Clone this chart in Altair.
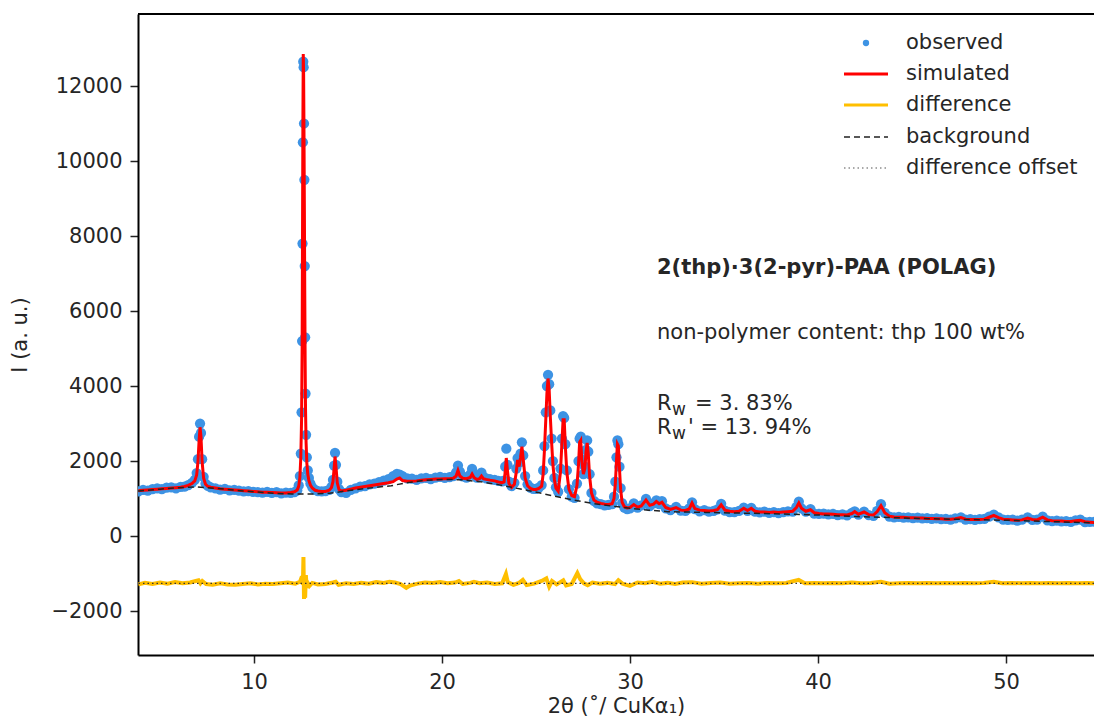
import altair as alt
import pandas as pd

# ---------------- data ----------------
two_theta = [
    3.85, 4.1, 4.35, 4.6, 4.85, 5.1, 5.35, 5.6, 5.85, 6.1, 6.3, 6.5,
    6.7, 6.85, 6.95, 7.02, 7.08, 7.13, 7.18, 7.24, 7.32, 7.42, 7.55, 7.7,
    7.95, 8.2, 8.45, 8.7, 8.95, 9.2, 9.45, 9.7, 9.95, 10.2, 10.45, 10.7, 10.95, 11.2, 11.45, 11.7, 11.95, 12.15,
    12.3, 12.38, 12.44, 12.49, 12.53, 12.56, 12.58, 12.6, 12.62, 12.64, 12.66, 12.68, 12.7, 12.72, 12.74, 12.77,
    12.81, 12.86, 12.92, 13.0, 13.1, 13.25, 13.4,
    13.6, 13.8, 14.0, 14.12, 14.2, 14.26, 14.31, 14.36, 14.43, 14.52, 14.65,
    14.9, 15.15, 15.4, 15.65, 15.9, 16.15, 16.4, 16.65, 16.9, 17.15, 17.4, 17.6, 17.75, 17.9, 18.15, 18.4,
    18.65, 18.9, 19.15, 19.4, 19.65, 19.9, 20.15, 20.4, 20.6,
    20.75, 20.85, 20.95, 21.1, 21.3, 21.5, 21.6, 21.7, 21.85, 22.0, 22.1, 22.2, 22.35, 22.55, 22.8, 23.0, 23.2,
    23.3, 23.36, 23.42, 23.48, 23.56, 23.7, 23.85, 23.95, 24.02, 24.1, 24.18, 24.25, 24.32, 24.42, 24.55,
    24.7, 24.85, 25.0, 25.15, 25.3,
    25.38, 25.45, 25.52, 25.58, 25.64, 25.7, 25.76, 25.83, 25.9, 25.98, 26.06, 26.18, 26.3, 26.38, 26.44,
    26.5, 26.56, 26.64, 26.75, 26.9, 27.05, 27.18, 27.26, 27.32, 27.38, 27.44, 27.52, 27.6, 27.66, 27.72,
    27.78, 27.85, 27.95, 28.08, 28.25, 28.45, 28.65, 28.85, 29.05, 29.15, 29.22, 29.28, 29.33, 29.38, 29.44,
    29.5, 29.58, 29.7, 29.85,
    30.0, 30.2, 30.4, 30.6, 30.85, 31.05, 31.25, 31.4, 31.55, 31.7, 31.9, 32.15, 32.45, 32.7, 32.95, 33.15,
    33.3, 33.45, 33.7, 33.95, 34.2, 34.45, 34.65, 34.85, 35.05, 35.3, 35.55, 35.8, 36.05, 36.25, 36.45, 36.65,
    36.9, 37.15, 37.4, 37.65, 37.9, 38.15, 38.4, 38.65, 38.85, 38.98, 39.12, 39.35, 39.6, 39.8, 40.05, 40.3,
    40.55, 40.8, 41.05, 41.3, 41.55, 41.8, 41.95, 42.15, 42.45, 42.7, 42.95, 43.15, 43.35, 43.55, 43.8, 44.05,
    44.3, 44.55, 44.8, 45.05, 45.3, 45.55, 45.8, 46.05, 46.3, 46.55, 46.8, 47.05, 47.3, 47.6, 47.85, 48.1,
    48.35, 48.6, 48.85, 49.1, 49.35, 49.6, 49.85, 50.1, 50.35, 50.6, 50.85, 51.15, 51.4, 51.65, 51.95, 52.2,
    52.45, 52.7, 52.95, 53.2, 53.45, 53.7, 53.95, 54.2, 54.45, 54.7,
]

observed = [
    1190, 1230, 1210, 1250, 1270, 1250, 1290, 1300, 1270, 1310, 1320, 1360,
    1420, 1500, 1680, 2050, 2650, 3000, 2750, 2050, 1580, 1400, 1340, 1300,
    1270, 1240, 1260, 1220, 1230, 1210, 1190, 1200, 1180, 1170, 1160, 1180, 1150, 1170, 1140, 1160, 1150, 1170,
    1220, 1350, 1600, 2200, 3300, 5200, 7800, 10500, 12650, 12500, 11000, 9500, 7200, 5300, 3800, 2700,
    2100, 1750, 1550, 1400, 1300, 1230, 1200,
    1190, 1200, 1230, 1310, 1500, 1880, 2220, 1900, 1450, 1250, 1170,
    1150, 1230, 1270, 1320, 1330, 1380, 1400, 1440, 1480, 1520, 1600, 1660, 1640, 1600, 1540, 1530,
    1500, 1540, 1550, 1520, 1560, 1580, 1550, 1570, 1600,
    1700, 1880, 1720, 1590, 1560, 1640, 1790, 1640, 1560, 1600, 1690, 1580, 1540, 1520, 1500, 1470, 1460,
    1480, 1850, 2330, 1900, 1450, 1330, 1420, 1800, 2080, 1950, 2200, 2500, 2150, 1600, 1380,
    1290, 1260, 1260, 1290, 1360,
    1750, 2400, 3300, 4000, 4300, 4050, 3350, 2600, 2000, 1550, 1300, 1180, 1800, 2600, 3200,
    3150, 2450, 1750, 1250, 1050, 1020, 1400, 2000, 2600, 2650, 2050, 1650, 1850, 2300, 2550,
    2250, 1650, 1150, 940, 870, 850, 820, 830, 850, 1050, 1450, 2100, 2550, 2450, 1850,
    1280, 880, 760, 720,
    740, 870, 760, 820, 990, 800, 870, 950, 850, 930, 740, 690, 780, 680, 670, 740,
    900, 720, 660, 690, 650, 670, 710, 860, 680, 640, 640, 670, 760, 670, 750, 650,
    630, 650, 620, 640, 610, 640, 660, 650, 780, 920, 740, 650, 720, 600, 590, 600,
    580, 590, 560, 580, 550, 620, 660, 570, 650, 560, 540, 670, 850, 620, 520, 500,
    510, 490, 500, 480, 490, 470, 480, 460, 470, 450, 460, 440, 470, 500, 440, 450,
    430, 450, 460, 520, 570, 500, 440, 430, 440, 410, 440, 500, 430, 440, 520, 420,
    400, 410, 390, 400, 380, 420, 440, 370, 380, 380,
]

simulated = [
    1210, 1220, 1230, 1240, 1250, 1260, 1270, 1280, 1290, 1300, 1320, 1350,
    1400, 1470, 1630, 1980, 2550, 2900, 2650, 1980, 1540, 1380, 1320, 1300,
    1280, 1260, 1250, 1240, 1230, 1220, 1210, 1200, 1190, 1180, 1170, 1165, 1160, 1155, 1150, 1150, 1160, 1180,
    1230, 1330, 1560, 2100, 3100, 5000, 7900, 11000, 12850, 12300, 10700, 8700, 6500, 4700, 3400, 2500,
    1950, 1650, 1480, 1360, 1280, 1220, 1200,
    1190, 1190, 1220, 1290, 1450, 1800, 2120, 1850, 1420, 1240, 1200,
    1220, 1250, 1280, 1300, 1320, 1340, 1360, 1380, 1400, 1420, 1450, 1520, 1550, 1480, 1460, 1460,
    1470, 1490, 1500, 1510, 1520, 1520, 1530, 1530, 1540,
    1600, 1750, 1600, 1540, 1530, 1560, 1650, 1560, 1510, 1530, 1600, 1530, 1510, 1490, 1470, 1440, 1420,
    1440, 1700, 2080, 1750, 1400, 1300, 1380, 1700, 2030, 1850, 2100, 2380, 2050, 1550, 1340,
    1270, 1240, 1240, 1270, 1330,
    1650, 2300, 3100, 3800, 4200, 3900, 3200, 2500, 1900, 1500, 1280, 1200, 1700, 2500, 3100,
    3100, 2400, 1700, 1250, 1080, 1050, 1350, 1900, 2500, 2550, 2000, 1650, 1800, 2250, 2480,
    2200, 1600, 1150, 960, 900, 870, 850, 840, 860, 1000, 1400, 2000, 2450, 2400, 1800,
    1250, 900, 780, 750,
    760, 840, 770, 800, 960, 820, 850, 920, 860, 900, 760, 710, 760, 690, 680, 720,
    880, 730, 690, 680, 670, 680, 700, 830, 690, 660, 650, 660, 740, 680, 740, 660,
    640, 640, 630, 640, 630, 640, 650, 660, 760, 880, 740, 660, 700, 620, 600, 590,
    590, 580, 570, 570, 560, 600, 650, 580, 640, 570, 560, 650, 810, 620, 530, 510,
    500, 500, 490, 490, 480, 480, 470, 470, 460, 460, 450, 450, 460, 490, 450, 440,
    440, 440, 450, 500, 550, 490, 450, 440, 430, 420, 430, 480, 440, 430, 500, 430,
    410, 400, 400, 390, 390, 410, 420, 380, 370, 360,
]

bg_theta = [3.83, 5, 6, 7, 8, 9, 10, 11, 12, 13, 14, 14.6, 15.5, 16.5, 17.3, 18, 19, 20, 21, 22, 23,
            23.7, 24.9, 26, 27, 28, 29, 30, 31, 32, 34, 36, 38, 40, 42, 44, 46, 48, 50, 52, 54.68]
background = [1200, 1250, 1290, 1310, 1270, 1220, 1180, 1140, 1120, 1120, 1140, 1180, 1240, 1300, 1340,
              1410, 1480, 1510, 1500, 1450, 1370, 1300, 1180, 1060, 960, 870, 800, 740, 690, 650, 630,
              610, 590, 560, 520, 490, 460, 440, 420, 390, 350]

diff_theta = [
    3.85, 4.2, 4.6, 5.0, 5.4, 5.8, 6.2, 6.6, 6.9, 7.05, 7.15, 7.25, 7.45, 7.8, 8.2, 8.6, 9.0, 9.4, 9.8,
    10.2, 10.6, 11.0, 11.4, 11.8, 12.2, 12.45, 12.55, 12.6, 12.63, 12.66, 12.69, 12.72, 12.76, 12.8, 12.86,
    12.95, 13.1, 13.4, 13.8, 14.2, 14.35, 14.5, 14.9, 15.3, 15.7, 16.1, 16.5, 16.9, 17.2, 17.5, 17.8, 18.1,
    18.3, 18.7, 19.1, 19.5, 19.9, 20.3, 20.7, 20.9, 21.1, 21.5, 21.7, 22.0, 22.4, 22.8, 23.2, 23.4, 23.5,
    23.8, 24.1, 24.3, 24.5, 24.9, 25.3, 25.55, 25.7, 25.85, 26.1, 26.45, 26.6, 26.9, 27.2, 27.35, 27.55,
    27.75, 28.0, 28.4, 28.8, 29.2, 29.38, 29.6, 30.0, 30.4, 30.8, 31.2, 31.6, 32.0, 32.4, 32.8, 33.3, 33.8,
    34.3, 34.8, 35.3, 35.8, 36.3, 36.8, 37.3, 37.8, 38.3, 38.97, 39.3, 39.8, 40.3, 40.8, 41.3, 41.8, 42.3,
    42.8, 43.35, 43.8, 44.3, 44.8, 45.3, 45.8, 46.3, 46.8, 47.3, 47.8, 48.3, 48.8, 49.35, 49.8, 50.3, 50.8,
    51.3, 51.8, 52.3, 52.8, 53.3, 53.8, 54.3, 54.7,
]
difference = [
    -1290, -1250, -1280, -1240, -1270, -1230, -1260, -1240, -1200, -1180, -1260, -1200, -1280, -1300, -1260,
    -1290, -1300, -1280, -1260, -1290, -1270, -1280, -1260, -1240, -1270, -1220, -1080, -1300, -560, -1680,
    -1100, -1650, -1040, -1380, -1250, -1330, -1250, -1290, -1280, -1240, -1220, -1300, -1260, -1280, -1250,
    -1270, -1230, -1250, -1220, -1240, -1280, -1380, -1320, -1270, -1240, -1250, -1230, -1260, -1240, -1200,
    -1280, -1250, -1220, -1260, -1240, -1280, -1260, -1010, -1230, -1300, -1250, -1170, -1310, -1270, -1200,
    -1130, -1350, -1200, -1290, -1180, -1320, -1280, -990, -1150, -1260, -1310, -1240, -1270, -1250, -1280,
    -1180, -1270, -1330, -1240, -1260, -1220, -1270, -1250, -1280, -1240, -1230, -1270, -1250, -1240, -1270,
    -1260, -1250, -1270, -1250, -1260, -1250, -1170, -1260, -1250, -1260, -1250, -1260, -1240, -1260, -1250,
    -1220, -1270, -1260, -1250, -1260, -1250, -1260, -1250, -1260, -1250, -1260, -1250, -1220, -1260, -1250,
    -1260, -1250, -1260, -1250, -1260, -1250, -1260, -1250, -1260,
]
diff_offset = [-1265]

x_ticks = [10, 20, 30, 40, 50]
y_ticks = [-2000, 0, 2000, 4000, 6000, 8000, 10000, 12000]

legend_labels = ["observed", "simulated", "difference", "background", "difference offset"]
phase_title = "2(thp)·3(2-pyr)-PAA (POLAG)"
content_text = "non-polymer content: thp 100 wt%"
rw_text = "= 3. 83%"
rwp_text = "' = 13. 94%"

# ---------------- chart ----------------
FONT = "DejaVu Sans"
TXT = "#262626"
BLUE = "#3d93e4"
W, H = 956, 641

main_df = pd.DataFrame({"tt": two_theta, "obs": observed, "sim": simulated})
bg_df = pd.DataFrame({"tt": bg_theta, "bg": background})
diff_df = pd.DataFrame({"tt": diff_theta, "diff": difference})
off_df = pd.DataFrame({"off": diff_offset})

xscale = alt.Scale(domain=[3.83, 54.68], nice=False, zero=False)
yscale = alt.Scale(domain=[-3173, 13920], nice=False, zero=False)

xaxis = alt.Axis(title="2θ (˚/ CuKα₁)", values=x_ticks, format="d", grid=False)
yaxis = alt.Axis(title="I (a. u.)", values=y_ticks, format="d", grid=False)


def X(f):
    return alt.X(f"{f}:Q", scale=xscale, axis=xaxis)


def Y(f):
    return alt.Y(f"{f}:Q", scale=yscale, axis=yaxis)


obs_layer = alt.Chart(main_df).mark_circle(size=105, color=BLUE, opacity=1, clip=True).encode(
    x=X("tt"), y=Y("obs"))
sim_layer = alt.Chart(main_df).mark_line(color="#ff0000", strokeWidth=3, clip=True).encode(
    x=X("tt"), y=Y("sim"))
diff_layer = alt.Chart(diff_df).mark_line(color="#ffbf00", strokeWidth=4, clip=True).encode(
    x=X("tt"), y=Y("diff"))
bg_layer = alt.Chart(bg_df).mark_line(color="#222222", strokeWidth=1.5, strokeDash=[6, 4], clip=True).encode(
    x=X("tt"), y=Y("bg"))
off_layer = alt.Chart(off_df).mark_rule(color="#333333", strokeWidth=1.2, strokeDash=[1.5, 3]).encode(
    y=Y("off"))

top_border = alt.Chart(off_df).mark_rule(color="black", strokeWidth=2).encode(
    x=alt.value(0), x2=alt.value(W), y=alt.value(0))

# legend (manual)
lx_text = 768
leg_rows = [29, 60, 91, 123, 154]
legend_layers = []
for lab, yy in zip(legend_labels, leg_rows):
    legend_layers.append(
        alt.Chart(off_df).mark_text(align="left", baseline="middle", font=FONT, fontSize=21, color=TXT).encode(
            x=alt.value(lx_text), y=alt.value(yy), text=alt.value(lab)))
legend_layers.append(alt.Chart(off_df).mark_circle(size=40, color=BLUE, opacity=1).encode(
    x=alt.value(728), y=alt.value(leg_rows[0])))
legend_layers.append(alt.Chart(off_df).mark_rule(color="#ff0000", strokeWidth=3).encode(
    x=alt.value(706), x2=alt.value(750), y=alt.value(leg_rows[1])))
legend_layers.append(alt.Chart(off_df).mark_rule(color="#ffbf00", strokeWidth=3).encode(
    x=alt.value(706), x2=alt.value(750), y=alt.value(leg_rows[2])))
legend_layers.append(alt.Chart(off_df).mark_rule(color="#222222", strokeWidth=1.5, strokeDash=[6, 4]).encode(
    x=alt.value(706), x2=alt.value(750), y=alt.value(leg_rows[3])))
legend_layers.append(alt.Chart(off_df).mark_rule(color="#555555", strokeWidth=1.2, strokeDash=[1.5, 3]).encode(
    x=alt.value(706), x2=alt.value(750), y=alt.value(leg_rows[4])))

# annotations
ax0 = 519
ann = [
    alt.Chart(off_df).mark_text(align="left", baseline="alphabetic", font=FONT, fontSize=21,
                                fontWeight="bold", color=TXT).encode(
        x=alt.value(ax0), y=alt.value(260), text=alt.value(phase_title)),
    alt.Chart(off_df).mark_text(align="left", baseline="alphabetic", font=FONT, fontSize=21, color=TXT).encode(
        x=alt.value(ax0), y=alt.value(325), text=alt.value(content_text)),
    alt.Chart(off_df).mark_text(align="left", baseline="alphabetic", font=FONT, fontSize=21, color=TXT).encode(
        x=alt.value(ax0), y=alt.value(396), text=alt.value("R")),
    alt.Chart(off_df).mark_text(align="left", baseline="alphabetic", font=FONT, fontSize=17, color=TXT).encode(
        x=alt.value(ax0 + 15), y=alt.value(401), text=alt.value("w")),
    alt.Chart(off_df).mark_text(align="left", baseline="alphabetic", font=FONT, fontSize=21, color=TXT).encode(
        x=alt.value(ax0 + 38), y=alt.value(396), text=alt.value(rw_text)),
    alt.Chart(off_df).mark_text(align="left", baseline="alphabetic", font=FONT, fontSize=21, color=TXT).encode(
        x=alt.value(ax0), y=alt.value(420), text=alt.value("R")),
    alt.Chart(off_df).mark_text(align="left", baseline="alphabetic", font=FONT, fontSize=17, color=TXT).encode(
        x=alt.value(ax0 + 15), y=alt.value(425), text=alt.value("w")),
    alt.Chart(off_df).mark_text(align="left", baseline="alphabetic", font=FONT, fontSize=21, color=TXT).encode(
        x=alt.value(ax0 + 31), y=alt.value(420), text=alt.value(rwp_text)),
]

chart = alt.layer(
    obs_layer, sim_layer, diff_layer, bg_layer, off_layer, top_border, *legend_layers, *ann
).properties(
    width=W, height=H,
    padding={"left": 138, "top": 14, "right": 0, "bottom": 67},
    autosize=alt.AutoSizeParams(type="none"),
    background="white",
).configure_view(
    stroke=None
).configure_axis(
    labelFont=FONT, titleFont=FONT, labelFontSize=21, titleFontSize=21,
    labelColor=TXT, titleColor=TXT, titleFontWeight="normal",
    domainColor="black", domainWidth=2, tickColor="#222222", tickWidth=1.5, tickSize=8,
    labelPadding=8,
).configure_axisX(
    titlePadding=3,
).configure_axisY(
    titlePadding=20,
)

chart.save("out.html", embed_options={"renderer": "svg", "actions": False})
